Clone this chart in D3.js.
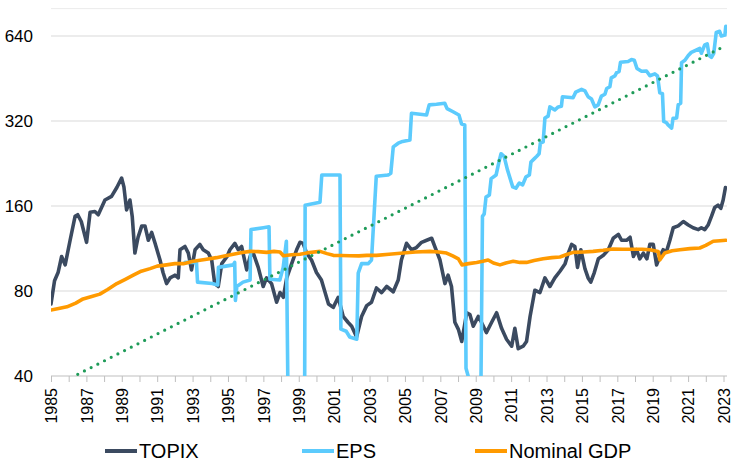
<!DOCTYPE html>
<html><head><meta charset="utf-8">
<script src="https://cdn.jsdelivr.net/npm/d3@7"></script>
<style>body{margin:0;background:#fff}svg{display:block}</style>
</head><body><svg id="c" width="737" height="466"></svg>
<script>
// ---- data (year, index value) ----
const yearTicks = d3.range(1985, 2024);
const yearLabels = d3.range(1985, 2024, 2);
const valueTicks = [40, 80, 160, 320, 640];
const seriesNames = ["TOPIX", "EPS", "Nominal GDP"];

const topix = [
[1985.0,72],[1985.2,87],[1985.4,93],[1985.6,106],[1985.8,99],[1986.08,121],[1986.36,147],[1986.51,149],[1986.71,141],
[1987.01,119],[1987.21,152],[1987.48,153],[1987.67,149],[1988.05,168],[1988.42,173],[1988.72,186],[1988.99,201],
[1989.12,187],[1989.27,155],[1989.46,168],[1989.59,147],[1989.74,109],[1989.92,124],[1990.13,136],[1990.31,136],
[1990.5,121],[1990.69,129],[1990.88,118],[1991.16,103],[1991.33,93],[1991.53,85],[1991.73,89],[1992.0,91],[1992.19,89],
[1992.29,112],[1992.57,115],[1992.76,109],[1992.94,95],[1993.14,112],[1993.41,117],[1993.6,112],[1993.89,109],
[1994.08,103],[1994.25,85],[1994.45,83],[1994.65,100],[1994.95,106],[1995.11,112],[1995.39,118],[1995.58,112],
[1995.77,115],[1996.06,95],[1996.25,106],[1996.43,109],[1996.71,97],[1996.99,83],[1997.18,89],[1997.46,85],
[1997.75,73],[1997.94,79],[1998.13,76],[1998.32,89],[1998.6,100],[1998.88,112],[1999.07,119],[1999.25,118],
[1999.44,109],[1999.72,103],[2000.0,93],[2000.28,87.5],[2000.68,72],[2000.95,70],[2001.23,76],[2001.51,65],
[2001.78,62],[2001.99,60],[2002.27,55],[2002.55,65],[2002.84,71],[2003.11,73],[2003.39,82],[2003.68,79],
[2003.97,83],[2004.34,79.5],[2004.62,87.5],[2004.8,103],[2005.09,118],[2005.37,112],[2005.65,114],[2005.94,119],
[2006.23,121],[2006.51,123],[2006.71,114],[2006.98,103],[2007.26,85],[2007.44,91],[2007.63,83],[2007.82,62],
[2008.02,58.5],[2008.21,53],[2008.49,67],[2008.67,66],[2008.86,60],[2009.14,65],[2009.32,62],[2009.6,57],
[2009.9,62],[2010.18,67],[2010.46,59],[2010.74,54],[2011.03,51],[2011.21,59],[2011.4,50],[2011.68,51],
[2011.87,53],[2012.07,65],[2012.34,80.5],[2012.63,79],[2012.91,89],[2013.19,83],[2013.47,89],[2013.76,94],
[2014.05,100],[2014.23,109],[2014.42,117],[2014.6,115],[2014.75,97],[2014.94,112],[2015.17,96],[2015.35,89],
[2015.5,86],[2015.7,93],[2015.93,104],[2016.21,107],[2016.49,112],[2016.77,123],[2017.06,127],[2017.24,121],
[2017.52,121],[2017.72,124],[2017.91,106],[2018.09,112],[2018.27,104],[2018.47,109],[2018.67,104],[2018.84,117],
[2019.03,117],[2019.22,99],[2019.4,106],[2019.59,112],[2019.77,110],[2019.97,121],[2020.16,134],[2020.44,136],
[2020.73,141],[2021.01,137],[2021.28,134],[2021.58,132],[2021.75,134],[2021.94,132],[2022.13,137],[2022.32,147],
[2022.5,158],[2022.69,161],[2022.85,157],[2022.98,168],[2023.11,186]
];

const eps = [
[1992.57,101],[1993.22,101],[1993.28,86],[1994.1,85],[1994.42,84],[1994.46,97],[1995.3,99],[1995.38,101],
[1995.42,74],[1995.5,83],[1995.85,86],[1996.25,87.5],[1996.3,132],[1997.0,134],[1997.32,135],[1997.37,88],
[1997.93,87.5],[1998.12,97],[1998.3,120],[1998.4,30],[1999.33,30],[1999.36,161],[2000.2,165],[2000.3,206],
[2001.33,206],[2001.38,58.6],[2001.68,57.6],[2001.88,55],[2002.28,54],[2002.36,92.5],[2002.55,100],[2002.93,100],
[2003.11,103],[2003.38,204],[2004.05,206],[2004.2,209],[2004.34,259],[2004.62,267],[2004.8,270],[2005.28,274],
[2005.37,341],[2006.22,336],[2006.37,365],[2006.78,367],[2007.25,370],[2007.38,354],[2007.72,345],[2008.05,336],
[2008.2,312],[2008.38,310],[2008.45,42.6],[2008.58,39.8],[2008.65,30],[2009.28,30],[2009.38,147],[2009.48,150],
[2009.58,172],[2009.77,175],[2009.87,200],[2010.15,206],[2010.34,233],[2010.43,245],[2010.6,240],[2010.8,214],
[2011.09,187],[2011.27,185],[2011.46,193],[2011.65,190],[2011.84,203],[2012.03,206],[2012.12,229],[2012.3,235],
[2012.45,240],[2012.58,245],[2012.65,267],[2012.81,270],[2012.91,328],[2013.09,333],[2013.19,359],[2013.47,350],
[2013.66,359],[2013.84,361],[2013.9,390],[2014.5,387],[2014.65,405],[2014.98,414],[2015.17,409],[2015.35,390],
[2015.54,383],[2015.73,359],[2015.92,365],[2016.1,392],[2016.3,398],[2016.4,417],[2016.58,423],[2016.66,455],
[2016.86,462],[2016.96,475],[2017.1,479],[2017.18,517],[2017.61,520],[2017.8,528],[2017.96,525],[2018.11,491],
[2018.37,480],[2018.65,481],[2018.84,463],[2019.12,470],[2019.27,462],[2019.4,403],[2019.55,400],[2019.62,319],
[2019.77,316],[2019.87,310],[2020.07,302],[2020.15,327],[2020.35,328],[2020.44,365],[2020.58,370],[2020.63,515],
[2020.82,525],[2021.01,546],[2021.18,560],[2021.66,578],[2021.75,556],[2021.94,595],[2022.08,600],[2022.19,546],
[2022.32,538],[2022.45,556],[2022.59,659],[2022.78,665],[2022.88,640],[2023.08,645],[2023.13,693]
];

const gdp = [
[1985.0,68.5],[1985.5,69.5],[1985.9,70.3],[1986.4,72.5],[1986.81,75],[1987.3,76.5],[1987.76,78],[1988.2,81],
[1988.72,85],[1989.2,88],[1989.65,91],[1990.1,94],[1990.6,96],[1991.0,98],[1991.53,99],[1992.0,100],[1992.48,100],
[1993.04,102],[1993.7,103.5],[1994.35,105],[1994.8,106.5],[1995.3,108],[1995.8,109.5],[1996.26,110.5],[1996.7,110.3],
[1997.18,109.6],[1997.6,110.5],[1997.94,110],[1998.13,106.6],[1998.6,107.5],[1999.07,108],[1999.6,109.5],[2000.2,110.5],
[2000.6,108.5],[2000.95,107],[2001.4,106.8],[2001.89,106.6],[2002.4,106.5],[2002.84,107],[2003.39,107],[2004.1,108],
[2004.9,109],[2005.6,110],[2006.41,110.5],[2006.9,110],[2007.35,109],[2007.7,106.5],[2008.02,104],[2008.22,99],
[2008.6,100],[2009.05,101],[2009.4,102],[2009.7,103],[2010.0,100.5],[2010.37,99],[2010.7,100.5],[2011.12,102],
[2011.5,101],[2011.87,101],[2012.3,102.5],[2012.81,104],[2013.3,105],[2013.76,105.6],[2014.1,107.5],[2014.51,109.6],
[2015.1,110],[2015.63,110.5],[2016.2,111.5],[2016.76,112.7],[2017.3,112.5],[2017.91,112.4],[2018.4,112.5],
[2018.84,112],[2019.31,110.5],[2019.4,103],[2019.68,109],[2020.1,111],[2020.54,112],[2021.1,113],[2021.66,113.6],
[2022.0,116],[2022.42,120],[2022.8,120.5],[2023.13,121]
];

const trend = [[1985.0, 36.3], [2022.85, 580]];

const colors = {TOPIX: "#3b4a60", EPS: "#5ccbfd", "Nominal GDP": "#ff9a00", trend: "#1e9b58"};

// ---- chart ----
const svg = d3.select("#c");
const font = "'Liberation Sans', Arial, sans-serif";
const x = d3.scaleLinear().domain([1985, 2023]).range([51, 723.5]);
const y = d3.scaleLog().base(2).domain([40, 640]).range([376, 36]);
const pLeft = 51, pRight = 727, pBottom = y(40), pTop = y(800);

svg.append("defs").append("clipPath").attr("id", "clip")
  .append("rect").attr("x", pLeft).attr("y", pTop).attr("width", pRight - pLeft).attr("height", pBottom - pTop);

// gridlines
svg.append("line").attr("x1", pLeft).attr("x2", pRight).attr("y1", pTop).attr("y2", pTop)
  .attr("stroke", "#ebebeb").attr("stroke-width", 1);
svg.append("g").selectAll("line").data(valueTicks.filter(v => v > 40)).join("line")
  .attr("x1", pLeft).attr("x2", pRight).attr("y1", d => y(d)).attr("y2", d => y(d))
  .attr("stroke", "#d9d9d9").attr("stroke-width", 1.2);

// y labels
svg.append("g").selectAll("text").data(valueTicks).join("text")
  .attr("x", 33).attr("y", d => y(d)).attr("dy", "0.36em")
  .attr("text-anchor", "end").attr("font-family", font).attr("font-size", 17).attr("fill", "#000")
  .text(d => d);

// x axis
const xAxis = d3.axisBottom(x).tickValues(yearTicks).tickSize(6).tickSizeOuter(0)
  .tickFormat(d => yearLabels.includes(d) ? d : "");
const gx = svg.append("g").attr("transform", `translate(0,${pBottom})`).call(xAxis);
gx.select(".domain").remove();
gx.selectAll(".tick line").attr("stroke", "#bfbfbf").attr("stroke-width", 1);
gx.selectAll(".tick text")
  .attr("transform", "rotate(-90)").attr("x", -12).attr("y", 0).attr("dy", "0.36em")
  .style("text-anchor", "end").attr("font-family", font).attr("font-size", 16).attr("fill", "#000");
svg.append("line").attr("x1", pLeft).attr("x2", pRight).attr("y1", pBottom).attr("y2", pBottom)
  .attr("stroke", "#bfbfbf").attr("stroke-width", 1.2);

// series
const line = d3.line().x(d => x(d[0])).y(d => y(d[1]));
const plot = svg.append("g").attr("clip-path", "url(#clip)");
[[topix, "TOPIX"], [eps, "EPS"], [gdp, "Nominal GDP"]].forEach(([data, name]) => {
  plot.append("path").datum(data).attr("d", line).attr("fill", "none")
    .attr("stroke", colors[name]).attr("stroke-width", 3.6)
    .attr("stroke-linejoin", "round").attr("stroke-linecap", "round");
});
plot.append("path").datum(trend).attr("d", line).attr("fill", "none")
  .attr("stroke", colors.trend).attr("stroke-width", 3.2)
  .attr("stroke-linecap", "round").attr("stroke-dasharray", "0 7.5");

// legend
const legendX = [105, 302, 475];
const lg = svg.append("g").selectAll("g").data(seriesNames).join("g")
  .attr("transform", (d, i) => `translate(${legendX[i]},451)`);
lg.append("line").attr("x1", 0).attr("x2", 32).attr("y1", 0).attr("y2", 0)
  .attr("stroke", d => colors[d]).attr("stroke-width", 4);
lg.append("text").attr("x", 34).attr("y", 7).attr("font-family", font).attr("font-size", 20)
  .attr("fill", "#000").text(d => d);
</script>
</body></html>
